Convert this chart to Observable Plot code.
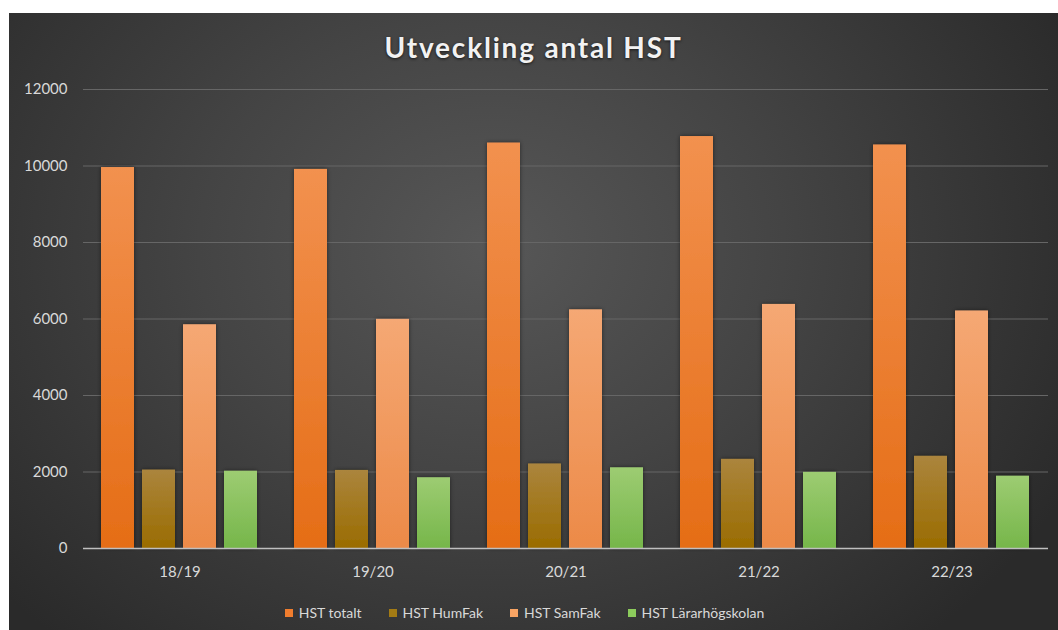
<!DOCTYPE html>
<html>
<head>
<meta charset="utf-8">
<script src="https://cdn.jsdelivr.net/npm/d3@7"></script>
<script src="https://cdn.jsdelivr.net/npm/@observablehq/plot@0.6"></script>
<style>
  html, body { margin: 0; padding: 0; background: #ffffff; }
  #frame {
    position: absolute; left: 9px; top: 13px; width: 1049px; height: 617px;
    background: radial-gradient(ellipse 62% 85% at 46% 38%, #575757 0%, #444444 45%, #2a2a2a 100%);
    overflow: hidden;
    font-family: Lato, "Open Sans", sans-serif;
  }
  #title {
    height: 57px; box-sizing: border-box; padding-top: 19px;
    text-align: center; color: #f2f2f2; font-size: 28px; line-height: 30px;
    font-weight: bold; letter-spacing: 1.8px;
    text-shadow: 0 1px 3px rgba(0,0,0,0.7);
  }
  #legend {
    display: flex; justify-content: center; align-items: center; gap: 27px;
    height: 40px; box-sizing: border-box; padding-top: 6px; padding-right: 18px;
    color: #d9d9d9; font-size: 14px; line-height: 20px;
  }
  #legend .item { display: flex; align-items: center; gap: 6px; }
  #legend .sw { width: 8px; height: 8px; display: inline-block; }
</style>
</head>
<body>
<div id="frame">
  <div id="title">Utveckling antal HST</div>
  <div id="chart"></div>
  <div id="legend"></div>
</div>
<script>
const years = ["18/19", "19/20", "20/21", "21/22", "22/23"];
const series = ["HST totalt", "HST HumFak", "HST SamFak", "HST Lärarhögskolan"];
const totalt = [9960, 9910, 10600, 10770, 10550];
const humfak = [2050, 2040, 2210, 2330, 2410];
const samfak = [5850, 5990, 6240, 6380, 6210];
const larar  = [2020, 1850, 2110, 1990, 1890];
const yTicks = [0, 2000, 4000, 6000, 8000, 10000, 12000];

const gradTop = ["#f2914f", "#ab853d", "#f5a874", "#9dcc72"];
const gradBot = ["#e56d16", "#9a6c00", "#ec8a48", "#76b64a"];
const legendColors = ["#f07d2e", "#a37b14", "#f8a464", "#8ccb5c"];

const valuesBySeries = [totalt, humfak, samfak, larar];
const data = [];
years.forEach((yr, i) => {
  series.forEach((s, j) => data.push({year: yr, series: s, value: valuesBySeries[j][i]}));
});

const plot = Plot.plot({
  width: 1049,
  height: 520,
  marginLeft: 73,
  marginRight: 9,
  marginTop: 19,
  marginBottom: 42,
  style: {background: "transparent", color: "#d9d9d9", fontFamily: "Lato, 'Open Sans', sans-serif", fontSize: "15px"},
  fx: {domain: years, padding: 0, label: null, axis: null},
  x: {domain: series, padding: 0.19, paddingOuter: 0.40, axis: null},
  y: {domain: [0, 12000], ticks: yTicks, label: null},
  color: {domain: series, range: series.map((s, j) => `url(#grad${j})`)},
  marks: [
    Plot.gridY(yTicks.filter(d => d > 0), {stroke: "#666666", strokeOpacity: 1, strokeWidth: 1}),
    Plot.axisY({ticks: yTicks, tickSize: 0, tickPadding: 16, tickFormat: d => String(d), fill: "#d9d9d9", fontSize: 15}),
    Plot.axisFx({anchor: "bottom", tickSize: 0, tickPadding: 18, fill: "#d9d9d9", fontSize: 15, label: null}),
    Plot.barY(data, {fx: "year", x: "series", y: "value", fill: "series", stroke: null}),
    Plot.ruleY([0], {stroke: "#bfbfbf", strokeWidth: 1.5})
  ]
});

// gradient definitions
const svg = d3.select(plot);
const defs = svg.insert("defs", ":first-child");
series.forEach((s, j) => {
  const g = defs.append("linearGradient").attr("id", `grad${j}`)
    .attr("x1", 0).attr("y1", 0).attr("x2", 0).attr("y2", 1);
  g.append("stop").attr("offset", "0%").attr("stop-color", gradTop[j]);
  g.append("stop").attr("offset", "100%").attr("stop-color", gradBot[j]);
});
const f = defs.append("filter").attr("id", "shadow").attr("x", "-20%").attr("y", "-5%").attr("width", "140%").attr("height", "110%");
f.append("feDropShadow").attr("dx", 0).attr("dy", 0).attr("stdDeviation", 2).attr("flood-color", "#000").attr("flood-opacity", 0.5);
svg.selectAll("g[aria-label='bar'] rect").attr("filter", "url(#shadow)");

document.getElementById("chart").appendChild(plot);

const legend = document.getElementById("legend");
series.forEach((s, j) => {
  const item = document.createElement("div");
  item.className = "item";
  const sw = document.createElement("span");
  sw.className = "sw";
  sw.style.background = legendColors[j];
  const t = document.createElement("span");
  t.textContent = s;
  item.appendChild(sw); item.appendChild(t);
  legend.appendChild(item);
});
</script>
</body>
</html>
